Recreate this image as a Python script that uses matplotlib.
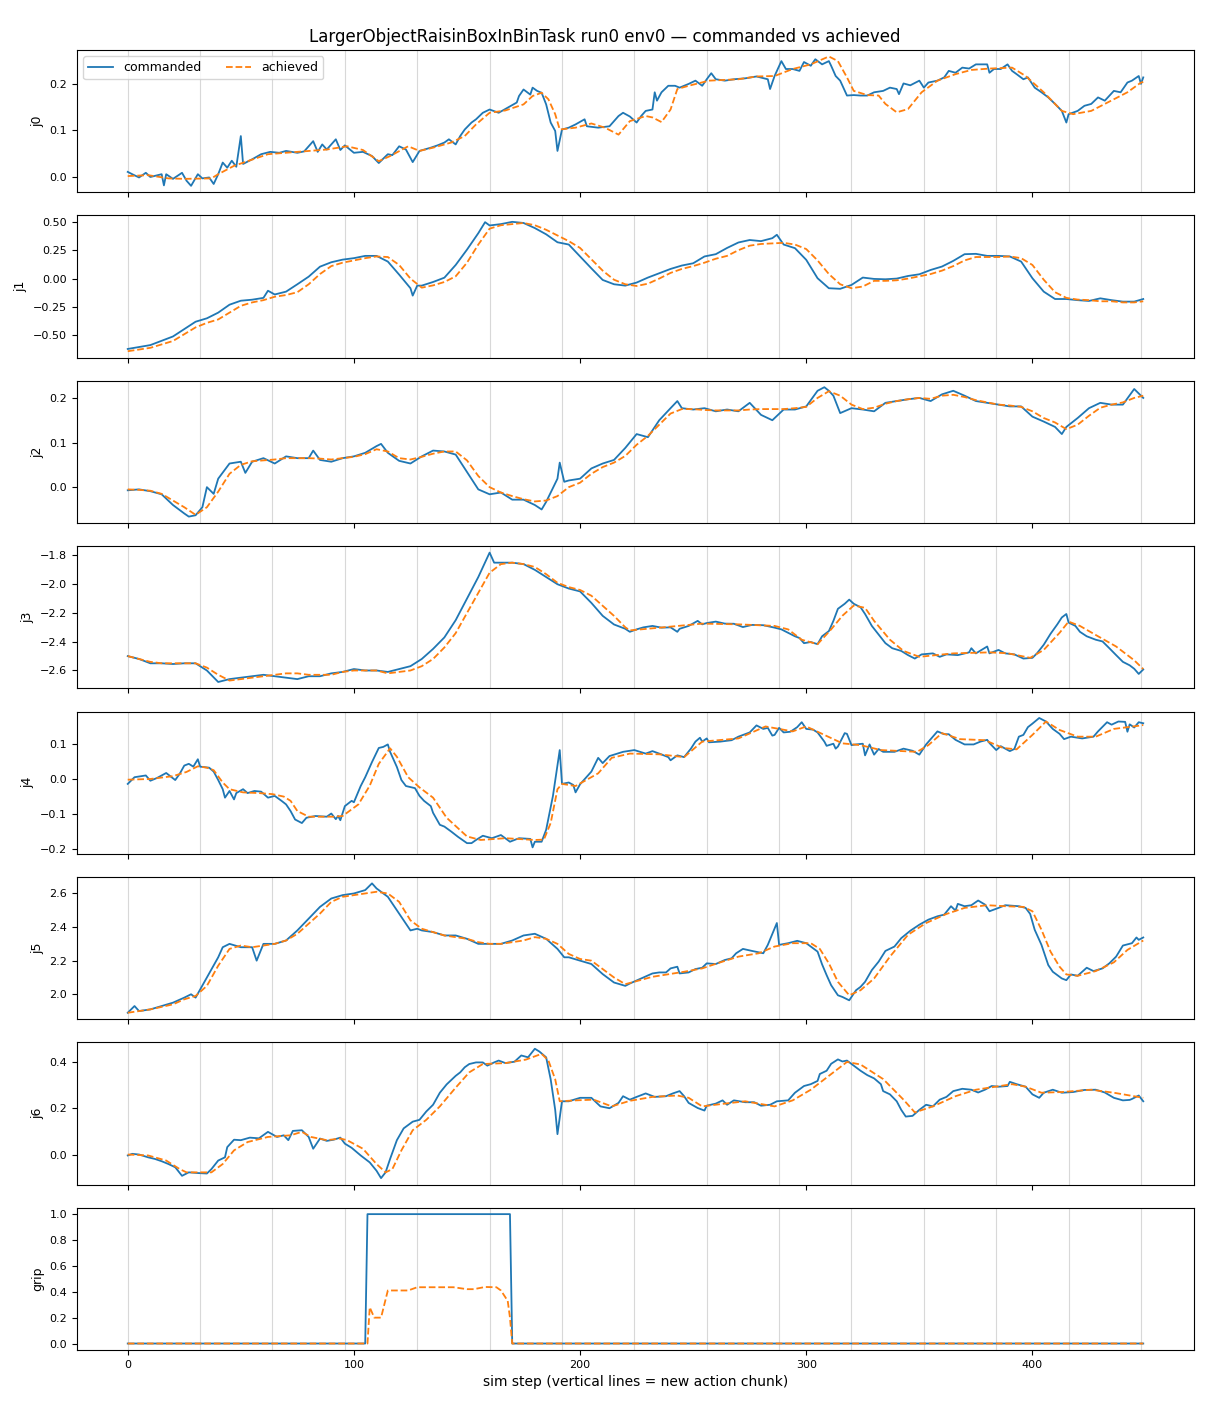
import matplotlib
matplotlib.use("Agg")
import matplotlib.pyplot as plt

TITLE = "LargerObjectRaisinBoxInBinTask run0 env0 — commanded vs achieved"
XLABEL = "sim step (vertical lines = new action chunk)"
JOINTS = ["j0", "j1", "j2", "j3", "j4", "j5", "j6", "grip"]
CHUNK_STARTS = list(range(0, 450, 32))
STEP5 = list(range(0, 450, 5)) + [449]

# ---- j0 ----
J0_CMD_X = [0, 2, 5, 8, 10, 15, 16, 17, 20, 24, 26, 28, 31, 33, 36, 38, 40, 42, 44, 46, 48, 50, 51, 55, 59, 63, 67, 70, 75,
            78, 82, 84, 86, 88, 92, 94, 96, 100, 104, 108, 111, 115, 117, 120, 123, 126, 129, 134, 137, 140, 142, 145, 147,
            149, 152, 154, 157, 160, 164, 168, 172, 173, 175, 178, 179, 181, 183, 185, 187, 189, 190, 192, 195, 198, 202,
            203, 208, 213, 217, 219, 222, 225, 227, 229, 232, 233, 234, 236, 239, 242, 244, 248, 251, 254, 256, 258, 260,
            264, 268, 273, 278, 283, 284, 286, 289, 291, 294, 297, 299, 302, 304, 307, 310, 311, 313, 315, 318, 321, 324,
            327, 330, 334, 337, 340, 341, 343, 346, 350, 352, 354, 358, 361, 363, 366, 369, 372, 375, 380, 381, 383, 386,
            389, 391, 393, 396, 398, 401, 404, 407, 410, 413, 415, 416, 420, 423, 426, 429, 432, 436, 439, 442, 444, 447,
            448, 449]
J0_CMD = [0.011, 0.006, -0.001, 0.009, 0.0, 0.006, -0.018, 0.006, -0.004, 0.009, -0.008, -0.019, 0.006, -0.003, -0.001,
          -0.015, 0.006, 0.031, 0.02, 0.035, 0.022, 0.088, 0.028, 0.038, 0.049, 0.054, 0.052, 0.056, 0.052, 0.055, 0.077,
          0.054, 0.07, 0.059, 0.081, 0.058, 0.068, 0.052, 0.054, 0.045, 0.03, 0.049, 0.047, 0.066, 0.059, 0.032, 0.056,
          0.063, 0.068, 0.074, 0.081, 0.07, 0.088, 0.102, 0.117, 0.124, 0.138, 0.145, 0.138, 0.149, 0.16, 0.174, 0.188,
          0.177, 0.192, 0.185, 0.181, 0.156, 0.117, 0.099, 0.056, 0.102, 0.106, 0.113, 0.124, 0.109, 0.106, 0.109, 0.131,
          0.138, 0.13, 0.117, 0.131, 0.142, 0.145, 0.182, 0.164, 0.182, 0.196, 0.196, 0.192, 0.2, 0.207, 0.196, 0.21,
          0.223, 0.21, 0.207, 0.21, 0.212, 0.216, 0.21, 0.189, 0.217, 0.249, 0.232, 0.232, 0.228, 0.247, 0.239, 0.253,
          0.242, 0.249, 0.239, 0.217, 0.207, 0.175, 0.176, 0.175, 0.175, 0.182, 0.185, 0.192, 0.189, 0.178, 0.201, 0.197,
          0.207, 0.192, 0.203, 0.207, 0.214, 0.228, 0.224, 0.235, 0.233, 0.242, 0.242, 0.224, 0.232, 0.232, 0.242, 0.228,
          0.221, 0.21, 0.214, 0.192, 0.182, 0.171, 0.157, 0.142, 0.117, 0.135, 0.142, 0.153, 0.157, 0.171, 0.164, 0.185,
          0.182, 0.203, 0.207, 0.217, 0.2, 0.214]
J0_ACH_X = [0, 9, 18, 25, 37, 40, 47, 53, 62, 75, 88, 97, 104, 111, 116, 124, 129, 135, 143, 149, 154, 160, 167, 175, 179,
            183, 186, 189, 191, 198, 205, 211, 217, 222, 229, 232, 236, 240, 243, 248, 257, 270, 278, 286, 294, 302, 310,
            314, 318, 321, 327, 332, 335, 340, 345, 351, 358, 366, 373, 381, 391, 397, 405, 413, 418, 426, 436, 442, 448,
            449]
J0_ACH = [0.002, 0.004, -0.003, -0.004, -0.003, 0.006, 0.024, 0.034, 0.049, 0.054, 0.059, 0.066, 0.058, 0.034, 0.045,
          0.066, 0.056, 0.063, 0.074, 0.088, 0.113, 0.138, 0.143, 0.156, 0.174, 0.181, 0.167, 0.135, 0.102, 0.106, 0.115,
          0.106, 0.091, 0.12, 0.131, 0.128, 0.118, 0.145, 0.189, 0.196, 0.207, 0.21, 0.216, 0.217, 0.232, 0.242, 0.259,
          0.249, 0.214, 0.185, 0.176, 0.175, 0.157, 0.139, 0.146, 0.182, 0.207, 0.221, 0.23, 0.233, 0.235, 0.217, 0.182,
          0.142, 0.135, 0.142, 0.167, 0.182, 0.203, 0.204]

# ---- j1 ----
J1_CMD_X = [0, 10, 20, 30, 35, 40, 45, 50, 55, 60, 62, 65, 70, 75, 80, 85, 90, 95, 100, 105, 110, 115, 120, 125, 126, 128,
            130, 135, 140, 145, 150, 155, 158, 160, 165, 170, 175, 180, 185, 190, 195, 200, 205, 210, 215, 220, 225, 230, 235,
            240, 245, 250, 255, 260, 265, 270, 275, 280, 285, 287, 290, 295, 300, 305, 310, 315, 320, 325, 330, 335, 340, 345,
            350, 355, 360, 365, 370, 375, 380, 385, 390, 395, 400, 405, 410, 415, 420, 425, 430, 435, 440, 445, 449]
J1_CMD = [-0.62, -0.586, -0.51, -0.38, -0.35, -0.30, -0.23, -0.195, -0.186, -0.17, -0.107, -0.14, -0.115, -0.05, 0.017, 0.105,
          0.144, 0.167, 0.18, 0.20, 0.20, 0.15, 0.035, -0.085, -0.15, -0.062, -0.062, -0.03, 0.008, 0.12, 0.255, 0.40, 0.497,
          0.468, 0.48, 0.50, 0.49, 0.445, 0.39, 0.32, 0.30, 0.195, 0.09, -0.012, -0.05, -0.062, -0.035, 0.009, 0.047, 0.085,
          0.115, 0.135, 0.195, 0.215, 0.27, 0.318, 0.34, 0.33, 0.356, 0.386, 0.30, 0.268, 0.165, 0.003, -0.085, -0.09, -0.056,
          0.009, -0.003, -0.006, 0.0, 0.023, 0.038, 0.076, 0.106, 0.156, 0.215, 0.218, 0.20, 0.20, 0.195, 0.15, 0.003, -0.115,
          -0.18, -0.18, -0.19, -0.197, -0.174, -0.19, -0.203, -0.203, -0.18]
J1_ACH = [-0.64, -0.625, -0.61, -0.58, -0.55, -0.49, -0.43, -0.39, -0.36, -0.30, -0.24, -0.21, -0.19, -0.16, -0.145, -0.12,
          -0.05, 0.04, 0.11, 0.14, 0.16, 0.18, 0.195, 0.19, 0.12, 0.0, -0.08, -0.06, -0.03, 0.02, 0.14, 0.3, 0.44, 0.47, 0.48,
          0.49, 0.47, 0.43, 0.38, 0.33, 0.27, 0.17, 0.07, -0.01, -0.05, -0.065, -0.045, 0.0, 0.05, 0.085, 0.11, 0.14, 0.175,
          0.2, 0.25, 0.29, 0.305, 0.31, 0.315, 0.3, 0.26, 0.16, 0.04, -0.05, -0.085, -0.07, -0.02, -0.02, -0.015, 0.0, 0.02,
          0.04, 0.07, 0.11, 0.16, 0.19, 0.19, 0.19, 0.195, 0.18, 0.12, -0.01, -0.12, -0.17, -0.185, -0.19, -0.2, -0.2, -0.21,
          -0.21, -0.2]

# ---- j2 ----
J2_CMD_X = [0, 5, 10, 15, 20, 25, 27, 30, 33, 35, 38, 40, 45, 50, 52, 55, 60, 65, 70, 75, 80, 82, 85, 90, 95, 100, 105, 110,
            112, 115, 120, 125, 130, 135, 140, 145, 150, 155, 160, 165, 170, 175, 180, 183, 185, 190, 191, 193, 195, 200, 205,
            210, 215, 220, 225, 230, 235, 240, 243, 245, 250, 255, 260, 265, 270, 275, 280, 285, 290, 295, 300, 305, 308, 310,
            312, 315, 320, 325, 330, 335, 340, 345, 350, 355, 360, 365, 370, 375, 380, 385, 390, 395, 400, 405, 410, 413, 415,
            420, 425, 430, 435, 440, 445, 449]
J2_CMD = [-0.007, -0.005, -0.009, -0.016, -0.04, -0.059, -0.066, -0.063, -0.045, 0.0, -0.015, 0.019, 0.053, 0.057, 0.032,
          0.057, 0.065, 0.053, 0.069, 0.065, 0.065, 0.082, 0.061, 0.057, 0.065, 0.069, 0.077, 0.092, 0.097, 0.077, 0.059, 0.053,
          0.069, 0.082, 0.08, 0.073, 0.034, -0.005, -0.016, -0.012, -0.028, -0.028, -0.04, -0.05, -0.033, 0.019, 0.055, 0.012,
          0.015, 0.019, 0.042, 0.053, 0.061, 0.088, 0.119, 0.112, 0.15, 0.177, 0.193, 0.177, 0.174, 0.177, 0.17, 0.174, 0.17,
          0.189, 0.162, 0.15, 0.174, 0.174, 0.181, 0.216, 0.224, 0.216, 0.205, 0.166, 0.177, 0.174, 0.17, 0.189, 0.193, 0.197,
          0.2, 0.193, 0.208, 0.216, 0.205, 0.193, 0.189, 0.185, 0.181, 0.181, 0.158, 0.147, 0.135, 0.119, 0.135, 0.155, 0.177,
          0.189, 0.185, 0.185, 0.22, 0.2]
J2_ACH = [-0.005, -0.006, -0.008, -0.015, -0.03, -0.045, -0.062, -0.045, -0.01, 0.03, 0.05, 0.058, 0.06, 0.062, 0.065, 0.065,
          0.065, 0.064, 0.062, 0.065, 0.068, 0.074, 0.085, 0.08, 0.065, 0.062, 0.068, 0.075, 0.08, 0.08, 0.06, 0.025, 0.0,
          -0.012, -0.02, -0.027, -0.032, -0.03, -0.02, 0.0, 0.01, 0.03, 0.045, 0.055, 0.07, 0.095, 0.115, 0.14, 0.165, 0.175,
          0.175, 0.173, 0.172, 0.172, 0.172, 0.174, 0.175, 0.175, 0.175, 0.177, 0.18, 0.2, 0.215, 0.205, 0.185, 0.175, 0.178,
          0.187, 0.193, 0.197, 0.2, 0.198, 0.205, 0.207, 0.202, 0.195, 0.19, 0.185, 0.183, 0.18, 0.17, 0.155, 0.145, 0.13, 0.14,
          0.16, 0.178, 0.185, 0.19, 0.2, 0.205]

# ---- j3 ----
J3_CMD_X = [0, 5, 10, 15, 20, 25, 30, 35, 40, 45, 50, 55, 60, 65, 70, 75, 80, 85, 90, 95, 100, 105, 110, 115, 120, 125, 130,
            135, 140, 145, 150, 155, 160, 162, 165, 170, 175, 180, 185, 190, 195, 200, 205, 210, 215, 220, 222, 225, 228,
            232, 236, 240, 243, 244, 248, 252, 254, 256, 260, 264, 268, 272, 276, 281, 286, 289, 292, 295, 297, 299, 302,
            305, 307, 310, 312, 314, 317, 319, 321, 324, 326, 329, 332, 335, 338, 342, 345, 348, 351, 356, 359, 362, 367,
            372, 373, 375, 380, 381, 385, 388, 392, 396, 400, 402, 405, 408, 411, 413, 415, 416, 419, 421, 424, 428, 431,
            434, 437, 440, 443, 445, 447, 449]
J3_CMD = [-2.5, -2.52, -2.55, -2.55, -2.555, -2.55, -2.55, -2.6, -2.68, -2.66, -2.65, -2.64, -2.63, -2.64, -2.65, -2.66, -2.64,
          -2.64, -2.62, -2.61, -2.59, -2.6, -2.6, -2.61, -2.59, -2.57, -2.52, -2.45, -2.37, -2.25, -2.1, -1.95, -1.78, -1.85,
          -1.85, -1.85, -1.86, -1.9, -1.95, -2.0, -2.03, -2.05, -2.13, -2.22, -2.28, -2.31, -2.331, -2.314, -2.30, -2.29,
          -2.302, -2.30, -2.331, -2.31, -2.29, -2.255, -2.279, -2.27, -2.26, -2.274, -2.275, -2.298, -2.283, -2.285, -2.302,
          -2.314, -2.338, -2.362, -2.374, -2.41, -2.402, -2.417, -2.362, -2.326, -2.255, -2.171, -2.136, -2.107, -2.136,
          -2.16, -2.207, -2.29, -2.35, -2.41, -2.445, -2.464, -2.493, -2.517, -2.488, -2.481, -2.505, -2.488, -2.493,
          -2.474, -2.445, -2.481, -2.433, -2.481, -2.457, -2.481, -2.488, -2.517, -2.512, -2.481, -2.421, -2.345, -2.279,
          -2.231, -2.207, -2.267, -2.29, -2.331, -2.362, -2.386, -2.398, -2.445, -2.493, -2.54, -2.564, -2.588, -2.624,
          -2.593]
J3_ACH_X = [0, 5, 10, 15, 20, 25, 30, 35, 40, 45, 50, 55, 60, 65, 70, 75, 80, 85, 90, 95, 100, 105, 110, 115, 120, 125, 130,
            135, 140, 145, 150, 155, 160, 165, 170, 175, 180, 185, 190, 195, 200, 205, 210, 215, 220, 222, 238, 254, 270,
            286, 292, 298, 305, 311, 316, 321, 326, 330, 337, 343, 350, 365, 381, 389, 399, 405, 412, 416, 421, 429, 437,
            445, 449]
J3_ACH = [-2.5, -2.52, -2.54, -2.55, -2.55, -2.55, -2.55, -2.58, -2.63, -2.67, -2.66, -2.65, -2.64, -2.63, -2.62, -2.62, -2.63,
          -2.63, -2.63, -2.61, -2.6, -2.6, -2.6, -2.62, -2.61, -2.6, -2.57, -2.52, -2.44, -2.34, -2.2, -2.06, -1.92, -1.86,
          -1.85, -1.86, -1.88, -1.93, -1.99, -2.02, -2.04, -2.08, -2.15, -2.22, -2.3, -2.321, -2.298, -2.274, -2.279, -2.29,
          -2.314, -2.386, -2.417, -2.314, -2.219, -2.148, -2.164, -2.255, -2.386, -2.464, -2.505, -2.481, -2.474, -2.48,
          -2.512, -2.457, -2.338, -2.26, -2.29, -2.362, -2.433, -2.529, -2.59]

# ---- j4 ----
J4_CMD_X = [0, 3, 8, 10, 13, 17, 21, 23, 25, 27, 29, 31, 32, 36, 38, 40, 42, 43, 45, 47, 48, 51, 53, 56, 59, 62, 65, 68, 70,
            72, 74, 77, 79, 83, 88, 90, 92, 93, 94, 96, 99, 100, 103, 105, 108, 111, 113, 115, 116, 119, 121, 123, 127, 129,
            131, 134, 135, 138, 140, 143, 146, 150, 152, 154, 157, 161, 165, 169, 173, 178, 179, 180, 183, 185, 188, 191,
            192, 195, 197, 198, 200, 205, 208, 210, 213, 219, 224, 229, 232, 235, 239, 240, 243, 246, 249, 251, 253, 254,
            256, 257, 262, 267, 270, 275, 278, 281, 283, 285, 286, 288, 290, 293, 296, 298, 300, 303, 305, 308, 309, 312,
            313, 314, 317, 318, 320, 322, 325, 326, 328, 330, 332, 334, 339, 343, 347, 350, 353, 356, 358, 361, 363, 366,
            370, 374, 377, 380, 381, 384, 386, 390, 392, 394, 396, 398, 400, 403, 406, 409, 412, 414, 417, 422, 427, 429,
            433, 435, 438, 441, 442, 443, 445, 447, 449]
J4_CMD = [-0.014, 0.005, 0.01, -0.005, 0.003, 0.017, -0.003, 0.015, 0.038, 0.043, 0.035, 0.056, 0.035, 0.032, 0.021, -0.003,
          -0.029, -0.053, -0.034, -0.058, -0.04, -0.029, -0.04, -0.034, -0.036, -0.053, -0.048, -0.062, -0.072, -0.091,
          -0.115, -0.125, -0.11, -0.105, -0.107, -0.098, -0.114, -0.105, -0.117, -0.077, -0.062, -0.066, -0.02, 0.005, 0.048,
          0.088, 0.091, 0.098, 0.077, 0.034, -0.003, -0.02, -0.026, -0.048, -0.062, -0.077, -0.096, -0.13, -0.135, -0.149,
          -0.164, -0.182, -0.182, -0.173, -0.161, -0.168, -0.159, -0.178, -0.168, -0.17, -0.194, -0.178, -0.178, -0.144,
          -0.048, 0.082, -0.014, -0.01, -0.017, -0.038, -0.015, 0.021, 0.06, 0.045, 0.065, 0.077, 0.082, 0.072, 0.079, 0.072,
          0.062, 0.053, 0.067, 0.062, 0.086, 0.106, 0.117, 0.106, 0.115, 0.104, 0.106, 0.11, 0.12, 0.132, 0.152, 0.142,
          0.145, 0.123, 0.125, 0.145, 0.132, 0.134, 0.147, 0.161, 0.142, 0.14, 0.132, 0.106, 0.094, 0.1, 0.086, 0.092, 0.13,
          0.128, 0.096, 0.098, 0.1, 0.067, 0.098, 0.069, 0.085, 0.077, 0.077, 0.086, 0.08, 0.069, 0.098, 0.12, 0.135, 0.127,
          0.127, 0.111, 0.098, 0.098, 0.106, 0.111, 0.102, 0.082, 0.093, 0.079, 0.085, 0.12, 0.125, 0.147, 0.157, 0.173,
          0.163, 0.142, 0.128, 0.113, 0.12, 0.115, 0.12, 0.135, 0.161, 0.154, 0.163, 0.162, 0.134, 0.155, 0.146, 0.161,
          0.158]
J4_ACH_X = [0, 10, 20, 26, 31, 35, 38, 42, 45, 51, 58, 64, 69, 72, 75, 80, 91, 95, 102, 107, 111, 116, 119, 124, 129, 135,
            141, 150, 156, 167, 180, 184, 187, 190, 192, 198, 208, 214, 222, 235, 246, 254, 270, 282, 294, 300, 308, 316,
            324, 333, 349, 354, 360, 368, 379, 387, 393, 400, 406, 412, 420, 428, 436, 447, 449]
J4_ACH = [-0.002, 0.0, 0.008, 0.02, 0.036, 0.032, 0.025, -0.01, -0.029, -0.038, -0.04, -0.043, -0.05, -0.062, -0.091,
          -0.107, -0.107, -0.105, -0.072, -0.019, 0.043, 0.087, 0.063, 0.005, -0.024, -0.053, -0.11, -0.163, -0.173, -0.168,
          -0.173, -0.172, -0.125, -0.029, -0.014, -0.02, 0.016, 0.06, 0.072, 0.07, 0.062, 0.106, 0.115, 0.149, 0.135, 0.149,
          0.125, 0.101, 0.096, 0.082, 0.077, 0.096, 0.13, 0.113, 0.11, 0.088, 0.084, 0.125, 0.163, 0.139, 0.12, 0.12, 0.142,
          0.151, 0.153]

# ---- j5 ----
J5_CMD_X = [0, 3, 5, 10, 15, 20, 25, 28, 30, 35, 40, 42, 45, 50, 55, 57, 60, 65, 70, 75, 80, 85, 90, 95, 100, 105, 108, 110,
            115, 120, 125, 128, 130, 135, 140, 145, 150, 155, 160, 165, 170, 175, 180, 185, 190, 193, 195, 200, 205, 210, 215,
            220, 222, 227, 232, 235, 238, 240, 243, 244, 248, 251, 254, 256, 260, 264, 267, 269, 272, 276, 281, 283, 287,
            288, 292, 296, 300, 303, 305, 307, 309, 311, 314, 316, 319, 322, 324, 326, 329, 332, 335, 339, 342, 346, 350,
            354, 358, 361, 364, 366, 367, 370, 373, 376, 379, 381, 385, 388, 394, 397, 399, 401, 404, 407, 409, 413, 415,
            417, 420, 424, 427, 431, 434, 437, 440, 444, 446, 447, 449]
J5_CMD = [1.89, 1.93, 1.9, 1.91, 1.93, 1.95, 1.98, 2.0, 1.98, 2.1, 2.22, 2.28, 2.3, 2.28, 2.28, 2.2, 2.3, 2.3, 2.32, 2.38, 2.45,
          2.52, 2.57, 2.59, 2.6, 2.62, 2.66, 2.63, 2.58, 2.48, 2.38, 2.39, 2.38, 2.37, 2.35, 2.35, 2.33, 2.3, 2.3, 2.3, 2.32,
          2.35, 2.36, 2.33, 2.27, 2.22, 2.22, 2.2, 2.18, 2.12, 2.07, 2.05, 2.064, 2.094, 2.124, 2.13, 2.13, 2.154, 2.164,
          2.124, 2.13, 2.15, 2.158, 2.184, 2.18, 2.204, 2.214, 2.244, 2.27, 2.258, 2.244, 2.294, 2.424, 2.294, 2.304, 2.318,
          2.304, 2.274, 2.254, 2.178, 2.114, 2.054, 1.994, 1.984, 1.964, 2.024, 2.044, 2.074, 2.144, 2.194, 2.258, 2.284,
          2.334, 2.378, 2.414, 2.444, 2.464, 2.474, 2.524, 2.498, 2.538, 2.524, 2.53, 2.558, 2.534, 2.494, 2.514, 2.53,
          2.524, 2.514, 2.478, 2.384, 2.294, 2.174, 2.134, 2.094, 2.084, 2.118, 2.11, 2.158, 2.138, 2.154, 2.184, 2.224,
          2.29, 2.304, 2.338, 2.324, 2.338]
J5_ACH_X = [0, 5, 10, 15, 20, 25, 30, 35, 40, 45, 50, 55, 60, 65, 70, 75, 80, 85, 90, 95, 100, 105, 110, 115, 120, 125, 130,
            135, 140, 145, 150, 155, 160, 165, 170, 175, 180, 185, 190, 195, 200, 205, 210, 215, 220, 232, 246, 254, 262,
            270, 279, 286, 294, 302, 306, 310, 314, 319, 324, 330, 337, 345, 353, 362, 370, 380, 388, 396, 400, 404, 408,
            412, 415, 420, 428, 436, 442, 449]
J5_ACH = [1.89, 1.9, 1.91, 1.925, 1.94, 1.97, 1.99, 2.05, 2.17, 2.27, 2.29, 2.28, 2.29, 2.3, 2.32, 2.36, 2.42, 2.48, 2.55, 2.58,
          2.59, 2.6, 2.61, 2.6, 2.55, 2.44, 2.39, 2.37, 2.35, 2.34, 2.33, 2.31, 2.3, 2.3, 2.31, 2.32, 2.34, 2.33, 2.3, 2.24,
          2.21, 2.2, 2.15, 2.1, 2.06, 2.104, 2.134, 2.154, 2.19, 2.224, 2.244, 2.284, 2.304, 2.304, 2.27, 2.184, 2.074, 1.994,
          2.024, 2.094, 2.224, 2.354, 2.424, 2.478, 2.514, 2.53, 2.524, 2.52, 2.494, 2.384, 2.254, 2.164, 2.118, 2.11, 2.138,
          2.19, 2.264, 2.32]

# ---- j6 ----
J6_CMD_X = [0, 2, 5, 9, 12, 15, 18, 21, 24, 27, 31, 35, 37, 40, 43, 44, 47, 50, 54, 58, 62, 66, 69, 71, 73, 77, 80, 82, 85,
            88, 91, 94, 96, 99, 103, 107, 110, 112, 114, 116, 119, 122, 126, 129, 132, 135, 138, 141, 145, 147, 149, 151,
            154, 157, 159, 162, 164, 167, 171, 174, 177, 180, 182, 185, 187, 189, 190, 192, 195, 200, 205, 209, 213, 217,
            219, 222, 225, 229, 233, 238, 241, 244, 246, 248, 252, 255, 256, 260, 263, 265, 268, 273, 277, 280, 284, 287,
            292, 295, 299, 302, 305, 306, 309, 311, 314, 316, 318, 321, 324, 327, 330, 333, 334, 337, 340, 342, 344, 347,
            350, 353, 356, 359, 362, 365, 369, 373, 376, 379, 382, 385, 389, 390, 393, 397, 400, 403, 405, 409, 413, 418,
            423, 428, 432, 436, 440, 443, 444, 447, 449]
J6_CMD = [-0.004, 0.003, 0.0, -0.012, -0.019, -0.029, -0.041, -0.055, -0.092, -0.077, -0.08, -0.082, -0.063, -0.026, -0.012,
          0.032, 0.064, 0.062, 0.073, 0.07, 0.098, 0.076, 0.083, 0.062, 0.102, 0.105, 0.076, 0.025, 0.069, 0.059, 0.064,
          0.073, 0.047, 0.029, -0.004, -0.034, -0.07, -0.102, -0.077, -0.019, 0.062, 0.113, 0.142, 0.15, 0.186, 0.215, 0.267,
          0.303, 0.34, 0.355, 0.377, 0.391, 0.398, 0.398, 0.384, 0.398, 0.406, 0.395, 0.401, 0.428, 0.42, 0.457, 0.445, 0.42,
          0.325, 0.193, 0.088, 0.23, 0.23, 0.245, 0.245, 0.208, 0.2, 0.223, 0.252, 0.237, 0.249, 0.264, 0.249, 0.252, 0.264,
          0.274, 0.252, 0.223, 0.201, 0.19, 0.211, 0.22, 0.234, 0.215, 0.234, 0.226, 0.226, 0.211, 0.215, 0.23, 0.234, 0.267,
          0.296, 0.304, 0.318, 0.348, 0.362, 0.392, 0.411, 0.402, 0.406, 0.384, 0.362, 0.343, 0.329, 0.304, 0.274, 0.26,
          0.23, 0.193, 0.164, 0.167, 0.193, 0.215, 0.208, 0.237, 0.249, 0.274, 0.284, 0.28, 0.268, 0.28, 0.296, 0.293, 0.296,
          0.314, 0.304, 0.293, 0.26, 0.245, 0.267, 0.28, 0.267, 0.27, 0.279, 0.28, 0.268, 0.245, 0.234, 0.236, 0.24, 0.255,
          0.23]
J6_ACH_X = [0, 9, 17, 23, 26, 37, 42, 47, 53, 62, 72, 77, 81, 88, 94, 97, 104, 110, 114, 117, 121, 126, 132, 138, 145, 151,
            157, 167, 176, 183, 186, 189, 191, 198, 206, 214, 222, 232, 243, 248, 254, 264, 273, 286, 294, 302, 310, 318,
            324, 334, 343, 348, 356, 366, 375, 391, 397, 404, 413, 426, 436, 449]
J6_ACH = [0.0, -0.004, -0.026, -0.063, -0.077, -0.077, -0.041, 0.018, 0.054, 0.076, 0.083, 0.098, 0.076, 0.062, 0.069, 0.062,
          0.025, -0.041, -0.077, -0.063, 0.018, 0.105, 0.15, 0.208, 0.289, 0.355, 0.391, 0.395, 0.41, 0.435, 0.406, 0.325,
          0.23, 0.234, 0.237, 0.208, 0.232, 0.249, 0.255, 0.245, 0.208, 0.22, 0.23, 0.208, 0.234, 0.28, 0.34, 0.4, 0.389,
          0.326, 0.237, 0.182, 0.208, 0.252, 0.28, 0.304, 0.293, 0.267, 0.27, 0.28, 0.267, 0.245]

# ---- grip ----
GRIP_CMD_X = [0, 105, 106, 169, 170, 449]
GRIP_CMD = [0.0, 0.0, 1.0, 1.0, 0.0, 0.0]
GRIP_ACH_X = [0, 106, 107, 109, 112, 115, 124, 128, 144, 150, 153, 158, 163, 165, 168, 169, 170, 449]
GRIP_ACH = [0.0, 0.0, 0.28, 0.2, 0.2, 0.41, 0.41, 0.435, 0.435, 0.42, 0.42, 0.437, 0.435, 0.41, 0.33, 0.2, 0.0, 0.0]

SERIES = [
    (J0_CMD_X, J0_CMD, J0_ACH_X, J0_ACH),
    (J1_CMD_X, J1_CMD, STEP5, J1_ACH),
    (J2_CMD_X, J2_CMD, STEP5, J2_ACH),
    (J3_CMD_X, J3_CMD, J3_ACH_X, J3_ACH),
    (J4_CMD_X, J4_CMD, J4_ACH_X, J4_ACH),
    (J5_CMD_X, J5_CMD, J5_ACH_X, J5_ACH),
    (J6_CMD_X, J6_CMD, J6_ACH_X, J6_ACH),
    (GRIP_CMD_X, GRIP_CMD, GRIP_ACH_X, GRIP_ACH),
]

fig, axes = plt.subplots(len(JOINTS), 1, figsize=(12.1, 14.08), dpi=100, sharex=True)
fig.subplots_adjust(left=0.0636, right=0.9868, top=0.9645, bottom=0.0412, hspace=0.162)

for ax, name, (cx, cy, ax_x, ay) in zip(axes, JOINTS, SERIES):
    for c in CHUNK_STARTS:
        ax.axvline(c, color="#d8d8d8", lw=0.8, zorder=0)
    ax.plot(cx, cy, color="tab:blue", lw=1.3, label="commanded")
    ax.plot(ax_x, ay, color="tab:orange", lw=1.3, ls="--", label="achieved")
    ax.set_ylabel(name, fontsize=9)
    ax.tick_params(labelsize=8)

axes[0].legend(loc="upper left", ncol=2, fontsize=9)
axes[-1].set_xlabel(XLABEL, fontsize=10)
fig.suptitle(TITLE, fontsize=12)
fig.savefig("out.png", dpi=100)
